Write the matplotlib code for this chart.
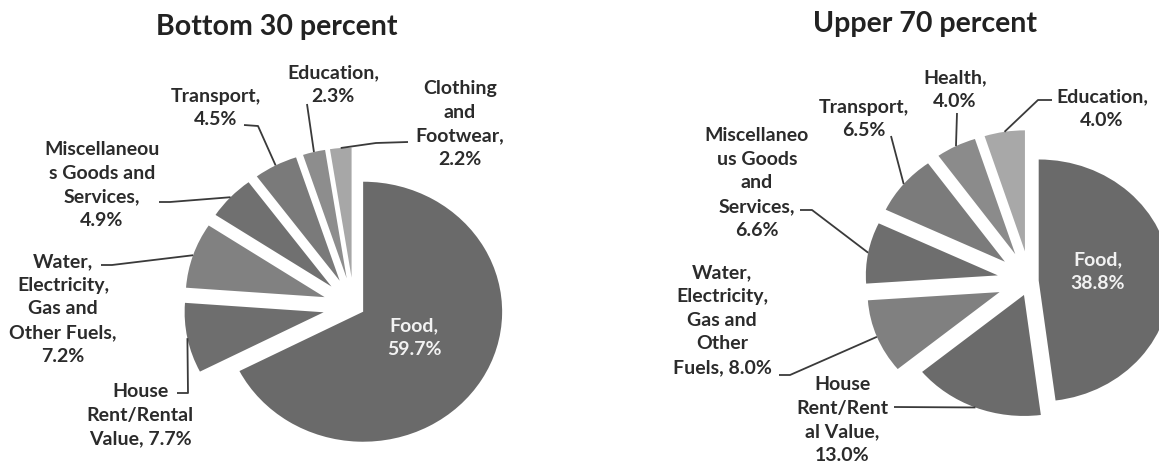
import numpy as np
import matplotlib
matplotlib.use('Agg')
import matplotlib.pyplot as plt

# 1 - Data: household expenditure shares (percent)

bottom_names = ['Food', 'House Rent/Rental Value', 'Water, Electricity, Gas and Other Fuels',
                'Miscellaneous Goods and Services', 'Transport', 'Education',
                'Clothing and Footwear']
bottom_shares = [59.7, 7.7, 7.2, 4.9, 4.5, 2.3, 2.2]

upper_names = ['Food', 'House Rent/Rental Value', 'Water, Electricity, Gas and Other Fuels',
               'Miscellaneous Goods and Services', 'Transport', 'Health', 'Education']
upper_shares = [38.8, 13.0, 8.0, 6.6, 6.5, 4.0, 4.0]

# wrapped label text, the way the labels break inside their boxes
bottom_fmt = ['Food,\n{:.1f}%', 'House\nRent/Rental\nValue, {:.1f}%',
              'Water,\nElectricity,\nGas and\nOther Fuels,\n{:.1f}%',
              'Miscellaneou\ns Goods and\nServices,\n{:.1f}%',
              'Transport,\n{:.1f}%', 'Education,\n{:.1f}%',
              'Clothing\nand\nFootwear,\n{:.1f}%']
upper_fmt = ['Food,\n{:.1f}%', 'House\nRent/Rent\nal Value,\n{:.1f}%',
             'Water,\nElectricity,\nGas and\nOther\nFuels, {:.1f}%',
             'Miscellaneo\nus Goods\nand\nServices,\n{:.1f}%',
             'Transport,\n{:.1f}%', 'Health,\n{:.1f}%', 'Education,\n{:.1f}%']

bottom_colors = ['#6a6a6a', '#6e6e6e', '#818181', '#707070', '#7a7a7a', '#8d8d8d', '#a7a7a7']
upper_colors = ['#6a6a6a', '#6b6b6b', '#808080', '#6e6e6e', '#7b7b7b', '#8b8b8b', '#a8a8a8']

# 2 - Layout (pixels)

W, H = 1159, 467
plt.rcParams['font.family'] = ['Lato', 'DejaVu Sans']

fig = plt.figure(figsize=(W / 100, H / 100), dpi=100)
fig.patch.set_facecolor('white')

overlay = fig.add_axes([0, 0, 1, 1], zorder=5)
overlay.set_xlim(0, W)
overlay.set_ylim(H, 0)
overlay.axis('off')
overlay.patch.set_alpha(0)

pies = [
    dict(title='Bottom 30 percent', title_xy=(277, 27),
         shares=bottom_shares, fmt=bottom_fmt, colors=bottom_colors,
         center=(354, 306.5), rx=139, ry=130,
         explode=[0.077, 0.223, 0.223, 0.223, 0.223, 0.223, 0.223],
         text_xy=[(414, 338), (140, 415), (63, 309), (102, 185), (216, 108), (333, 85), (460, 124)],
         leaders=[None, [(177, 393), (188, 393)], [(101, 265), (112, 265)],
                  [(159, 202), (170, 202)], [(244, 125), (258, 126)],
                  [(307, 104)], [(408, 142), (376, 143)]]),
    dict(title='Upper 70 percent', title_xy=(925, 24),
         shares=upper_shares, fmt=upper_fmt, colors=upper_colors,
         center=(1030, 281), rx=132, ry=121,
         explode=[0.066, 0.124, 0.248, 0.248, 0.248, 0.248, 0.248],
         text_xy=[(1098, 272), (842, 420), (722, 320), (757, 183), (864, 119), (955, 90), (1102, 109)],
         leaders=[None, [(894, 407)], [(779, 375), (790, 375)],
                  [(800, 210), (812, 210)], [(891, 136)],
                  [(957, 113)], [(1052, 100), (1038, 100)]]),
]

# 3 - Draw the two pies

for p in pies:
    cx, cy = p['center']
    rx, ry = p['rx'], p['ry']
    ax = fig.add_axes([(cx - 1.5 * rx) / W, (H - cy - 1.5 * ry) / H,
                       3 * rx / W, 3 * ry / H])
    wedges, _ = ax.pie(p['shares'], colors=p['colors'], explode=p['explode'],
                       startangle=90, counterclock=False, radius=1,
                       wedgeprops=dict(linewidth=0))
    ax.set_xlim(-1.5, 1.5)
    ax.set_ylim(-1.5, 1.5)
    ax.set_aspect('auto')
    ax.axis('off')

    overlay.text(*p['title_xy'], p['title'], ha='center', va='center',
                 fontsize=20.5, fontweight='bold', color='#222222')

    for i, w in enumerate(wedges):
        label = p['fmt'][i].format(p['shares'][i])
        tx, ty = p['text_xy'][i]
        if i == 0:
            overlay.text(tx, ty, label, ha='center', va='center', fontsize=14,
                         fontweight='bold', color='#f2f2f2', linespacing=1.48)
            continue
        overlay.text(tx, ty, label, ha='center', va='center', fontsize=14,
                     fontweight='bold', color='#2b2b2b', linespacing=1.48)
        # leader line ends on the middle of the slice's outer arc
        tm = np.radians((w.theta1 + w.theta2) / 2)
        ax_pt = (w.center[0] + w.r * np.cos(tm), w.center[1] + w.r * np.sin(tm))
        dx, dy = ax.transData.transform(ax_pt)
        path = p['leaders'][i] + [(dx, H - dy)]
        xs = [pt[0] for pt in path]
        ys = [pt[1] for pt in path]
        overlay.plot(xs, ys, color='#3a3a3a', lw=1.3, solid_capstyle='butt')

fig.savefig('out.png', dpi=100, facecolor='white')
